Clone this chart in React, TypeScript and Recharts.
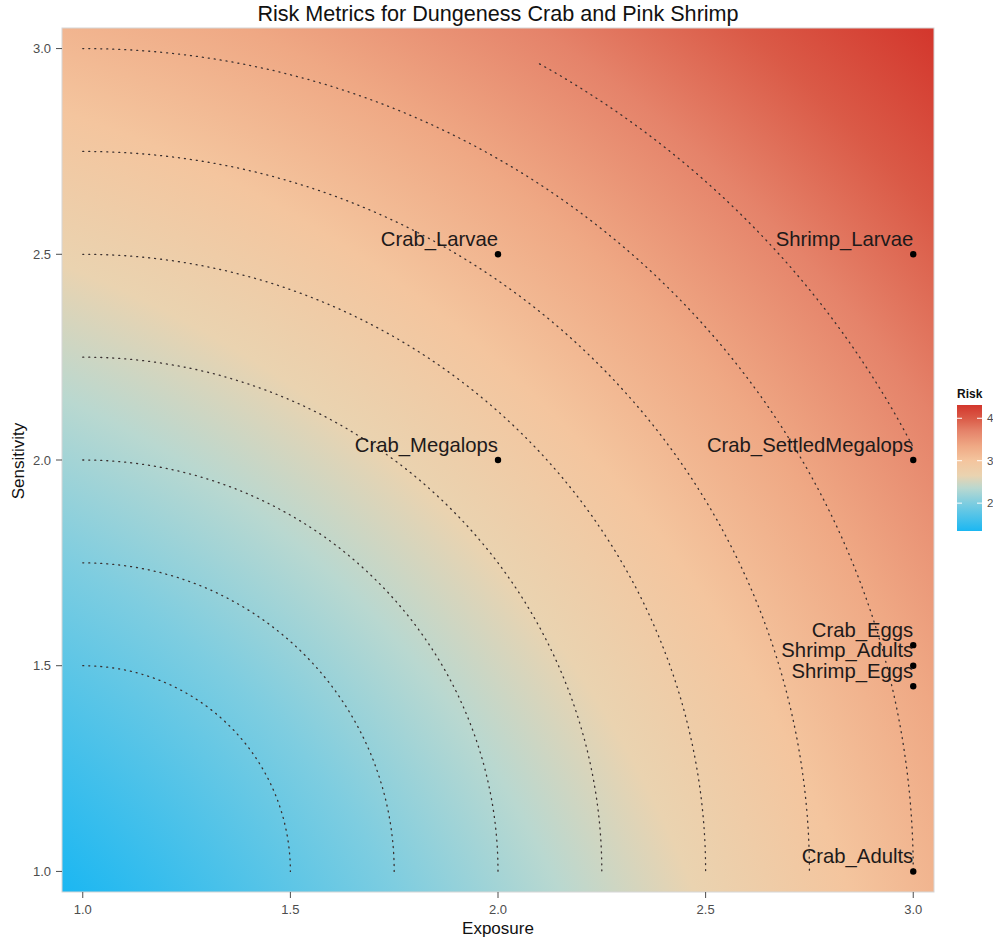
import React from 'react';
import { ScatterChart, Scatter, XAxis, YAxis, ReferenceArea } from 'recharts';

const chartTitle = 'Risk Metrics for Dungeness Crab and Pink Shrimp';
const xAxisTitle = 'Exposure';
const yAxisTitle = 'Sensitivity';
const legendTitle = 'Risk';

const axisDomain: [number, number] = [0.95, 3.05];
const axisTicks = [1.0, 1.5, 2.0, 2.5, 3.0];

const habitatNames = [
  'Crab_Larvae',
  'Shrimp_Larvae',
  'Crab_Megalops',
  'Crab_SettledMegalops',
  'Crab_Eggs',
  'Shrimp_Adults',
  'Shrimp_Eggs',
  'Crab_Adults',
];
const exposureValues = [2, 3, 2, 3, 3, 3, 3, 3];
const sensitivityValues = [2.5, 2.5, 2, 2, 1.55, 1.5, 1.45, 1];

// dotted risk contours: circles about (1,1)
const contourCenter = [1, 1];
const contourRadii = [0.5, 0.75, 1, 1.25, 1.5, 1.75, 2, 2.25];
const contourStartExposure = [1, 1, 1, 1, 1, 1, 1, 2.1];
const contourMaxExposure = 3;

// fill scale (risk = distance from origin)
const riskStops = [1.3435, 2.0, 2.35, 2.65, 3.0, 3.35, 3.7, 4.0, 4.313];
const riskColors = ['#1BB7F2', '#7ECDE0', '#B9D8D0', '#EAD3B0', '#F4C59E', '#EFA884', '#E5836A', '#DA5A47', '#D3362C'];
const legendTicks = [2, 3, 4];

const FONT = '"Liberation Sans", Arial, Helvetica, sans-serif';

const points = habitatNames.map((name, i) => ({ name, x: exposureValues[i], y: sensitivityValues[i] }));

const arcs = contourRadii.map((r, k) => {
  const a0 = Math.acos(Math.min(1, (contourStartExposure[k] - contourCenter[0]) / r));
  const a1 = Math.acos(Math.min(1, (contourMaxExposure - contourCenter[0]) / r));
  const n = 120;
  const pts: { x: number; y: number }[] = [];
  for (let j = 0; j <= n; j++) {
    const a = a0 + ((a1 - a0) * j) / n;
    pts.push({ x: contourCenter[0] + r * Math.cos(a), y: contourCenter[1] + r * Math.sin(a) });
  }
  return pts;
});

const span = axisDomain[1] - axisDomain[0];
const vMax = riskStops[riskStops.length - 1];
const vMin = riskStops[0];

const Background = (p: any) => (
  <g>
    <defs>
      <radialGradient
        id="riskBg"
        gradientUnits="objectBoundingBox"
        cx={(0 - axisDomain[0]) / span}
        cy={(axisDomain[1] - 0) / span}
        fx={(0 - axisDomain[0]) / span}
        fy={(axisDomain[1] - 0) / span}
        r={vMax / span}
      >
        {riskStops.map((v, i) => (
          <stop key={i} offset={v / vMax} stopColor={riskColors[i]} />
        ))}
      </radialGradient>
    </defs>
    <rect x={p.x} y={p.y} width={p.width} height={p.height} fill="url(#riskBg)" stroke="#d6d6d6" strokeWidth={1} />
  </g>
);

const PointShape = (p: any) => (
  <g>
    <circle cx={p.cx} cy={p.cy} r={3.2} fill="#000" />
    <text x={p.cx} y={p.cy - 8.5} textAnchor="end" fontSize={20.3} fill="#1e1a1a" fontFamily={FONT}>
      {p.payload.name}
    </text>
  </g>
);

const NoDot = () => <g />;

export default function App() {
  const barTop = 405;
  const barBottom = 531;
  const barX = 957;
  const barW = 25;
  const valToY = (v: number) => barTop + ((vMax - v) / (vMax - vMin)) * (barBottom - barTop);
  return (
    <div style={{ position: 'absolute', left: 0, top: 0, width: 993, height: 938, overflow: 'hidden', background: '#fff' }}>
      <ScatterChart
        width={993}
        height={938}
        margin={{ top: 28, right: 59, bottom: 0, left: 0 }}
        style={{ fontFamily: FONT }}
      >
        <XAxis
          type="number"
          dataKey="x"
          domain={axisDomain}
          ticks={axisTicks}
          allowDataOverflow
          height={46}
          tickFormatter={(v: number) => v.toFixed(1)}
          tick={{ fill: '#4d4d4d', fontSize: 13 }}
          tickLine={{ stroke: '#4d4d4d' }}
          tickSize={6}
          tickMargin={7}
          axisLine={false}
        />
        <YAxis
          type="number"
          dataKey="y"
          domain={axisDomain}
          ticks={axisTicks}
          allowDataOverflow
          width={62}
          tickFormatter={(v: number) => v.toFixed(1)}
          tick={{ fill: '#4d4d4d', fontSize: 13 }}
          tickLine={{ stroke: '#4d4d4d' }}
          tickSize={6}
          tickMargin={5}
          axisLine={false}
        />
        <ReferenceArea
          x1={axisDomain[0]}
          x2={axisDomain[1]}
          y1={axisDomain[0]}
          y2={axisDomain[1]}
          shape={Background}
          ifOverflow="visible"
        />
        {arcs.map((pts, k) => (
          <Scatter
            key={k}
            data={pts}
            line={{ stroke: '#3a3030', strokeWidth: 1.3, strokeDasharray: '1 5', strokeLinecap: 'round' }}
            lineJointType="linear"
            shape={NoDot}
            isAnimationActive={false}
          />
        ))}
        <Scatter data={points} shape={PointShape} isAnimationActive={false} />
      </ScatterChart>
      <svg
        width={993}
        height={938}
        style={{ position: 'absolute', left: 0, top: 0, pointerEvents: 'none', fontFamily: FONT }}
      >
        <defs>
          <linearGradient id="legendGrad" x1="0" y1="0" x2="0" y2="1">
            {riskStops
              .map((v, i) => ({ v, c: riskColors[i] }))
              .reverse()
              .map((s, i) => (
                <stop key={i} offset={(vMax - s.v) / (vMax - vMin)} stopColor={s.c} />
              ))}
          </linearGradient>
        </defs>
        <text x={498} y={21} textAnchor="middle" fontSize={21.6} fill="#111">
          {chartTitle}
        </text>
        <text x={498} y={934} textAnchor="middle" fontSize={17} fill="#111">
          {xAxisTitle}
        </text>
        <text x={24} y={461} textAnchor="middle" fontSize={17} fill="#111" transform="rotate(-90 24 461)">
          {yAxisTitle}
        </text>
        <text x={957} y={398} fontSize={12} fontWeight="bold" fill="#111">
          {legendTitle}
        </text>
        <rect x={barX} y={barTop} width={barW} height={barBottom - barTop} fill="url(#legendGrad)" />
        {legendTicks.map((t) => (
          <g key={t}>
            <line x1={barX} x2={barX + 5} y1={valToY(t)} y2={valToY(t)} stroke="#fff" strokeWidth={1} />
            <line x1={barX + barW - 5} x2={barX + barW} y1={valToY(t)} y2={valToY(t)} stroke="#fff" strokeWidth={1} />
            <text x={987} y={valToY(t) + 4} fontSize={11.5} fill="#4d4d4d">
              {t}
            </text>
          </g>
        ))}
      </svg>
    </div>
  );
}
